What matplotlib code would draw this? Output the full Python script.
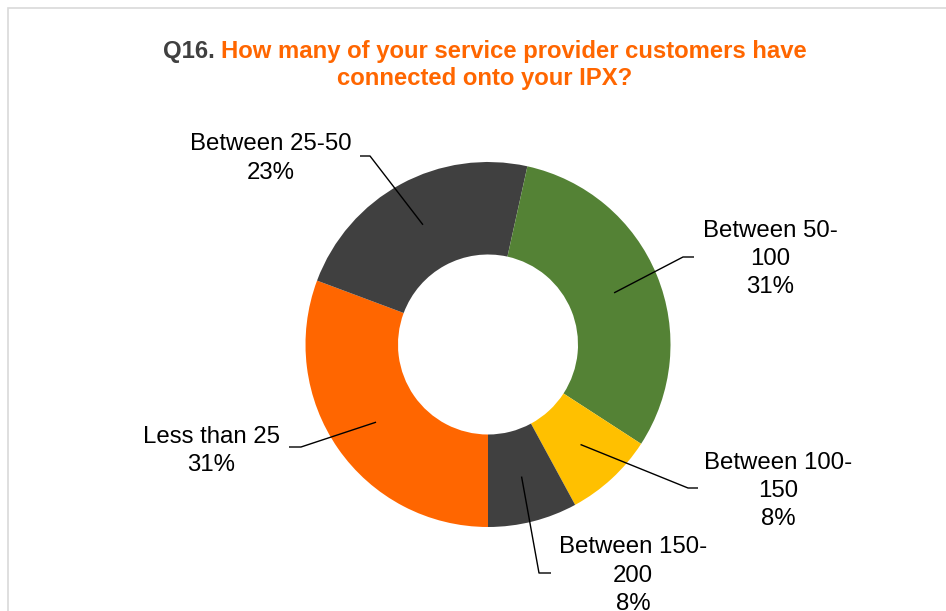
#!/usr/bin/env python3
# -*- coding: utf-8 -*-

"""Q16 donut: service provider customers connected onto the IPX."""

import numpy as np
import matplotlib
matplotlib.use("Agg")
import matplotlib.pyplot as plt
from matplotlib.patches import Rectangle

W, H, DPI = 946, 611, 100

CATEGORIES = ["Less than 25", "Between 25-50", "Between 50-100",
              "Between 100-150", "Between 150-200"]
LABEL_TEXT = ["Less than 25", "Between 25-50", "Between 50-\n100",
              "Between 100-\n150", "Between 150-\n200"]
PERCENTS = [31, 23, 31, 8, 8]
COLORS = ["#FF6600", "#404040", "#548235", "#FFC000", "#404040"]

ORANGE = "#FF6600"
DARK = "#404040"

# pixel layout (image coords, y down)
CENTER = (488, 344.5)
R_OUT = 182.5
R_IN = 90
TITLE_X = 485
# (elbow x, elbow y, end x, text x, text y)
LEADERS = [
    (301, 447, 289, 211, 451),
    (370, 156, 360, 271, 158.5),
    (683, 257, 694, 770, 259),
    (688, 488, 698, 778, 491),
    (539, 573, 551, 633, 575.5),
]


def to_data(x, y):
    """Image pixel -> data coords centred on the pie."""
    return x - CENTER[0], CENTER[1] - y


def title_line(fig, y, parts, size):
    """Draw a centred line made of differently coloured pieces."""
    renderer = fig.canvas.get_renderer()
    texts = []
    for s, c in parts:
        t = fig.text(0, y, s, color=c, fontsize=size, fontweight="bold",
                     family="Liberation Sans", va="baseline", ha="left")
        texts.append(t)
    widths = [t.get_window_extent(renderer).width for t in texts]
    x = TITLE_X - sum(widths) / 2
    for t, w in zip(texts, widths):
        t.set_x(x / W)
        x += w


def main():
    plt.rcParams["font.family"] = ["Liberation Sans", "DejaVu Sans"]
    fig = plt.figure(figsize=(W / DPI, H / DPI), dpi=DPI)
    ax = fig.add_axes([0, 0, 1, 1])
    ax.axis("off")

    fig.patches.append(Rectangle((8 / W, -0.1), 1.2, 1 - 8 / H + 0.1,
                                 transform=fig.transFigure, fill=False,
                                 edgecolor="#D9D9D9", linewidth=1.2))

    wedges, _ = ax.pie(PERCENTS, colors=COLORS, radius=R_OUT,
                       startangle=-90, counterclock=False,
                       wedgeprops=dict(width=R_OUT - R_IN, linewidth=0))
    ax.set_xlim(-CENTER[0], W - CENTER[0])
    ax.set_ylim(CENTER[1] - H, CENTER[1])

    r_mid = (R_OUT + R_IN) / 2
    for w, lab, pct, (ex, ey, endx, tx, ty) in zip(wedges, LABEL_TEXT,
                                                  PERCENTS, LEADERS):
        ang = np.deg2rad((w.theta1 + w.theta2) / 2)
        ax0, ay0 = r_mid * np.cos(ang), r_mid * np.sin(ang)
        ex_d, ey_d = to_data(ex, ey)
        endx_d, _ = to_data(endx, ey)
        ax.plot([ax0, ex_d, endx_d], [ay0, ey_d, ey_d], color="black",
                linewidth=1.0, solid_capstyle="butt")
        tx_d, ty_d = to_data(tx, ty)
        ax.text(tx_d, ty_d, "%s\n%d%%" % (lab, pct), ha="center",
                va="center", multialignment="center", fontsize=17.3,
                linespacing=1.36, color="black")

    title_line(fig, 1 - 58 / H, [("Q16. ", DARK),
                                  ("How many of your service provider "
                                   "customers have", ORANGE)], 17.2)
    title_line(fig, 1 - 85 / H, [("connected onto your IPX?", ORANGE)],
               17.2)

    fig.savefig("out.png", dpi=DPI, facecolor="white")


if __name__ == "__main__":
    main()
